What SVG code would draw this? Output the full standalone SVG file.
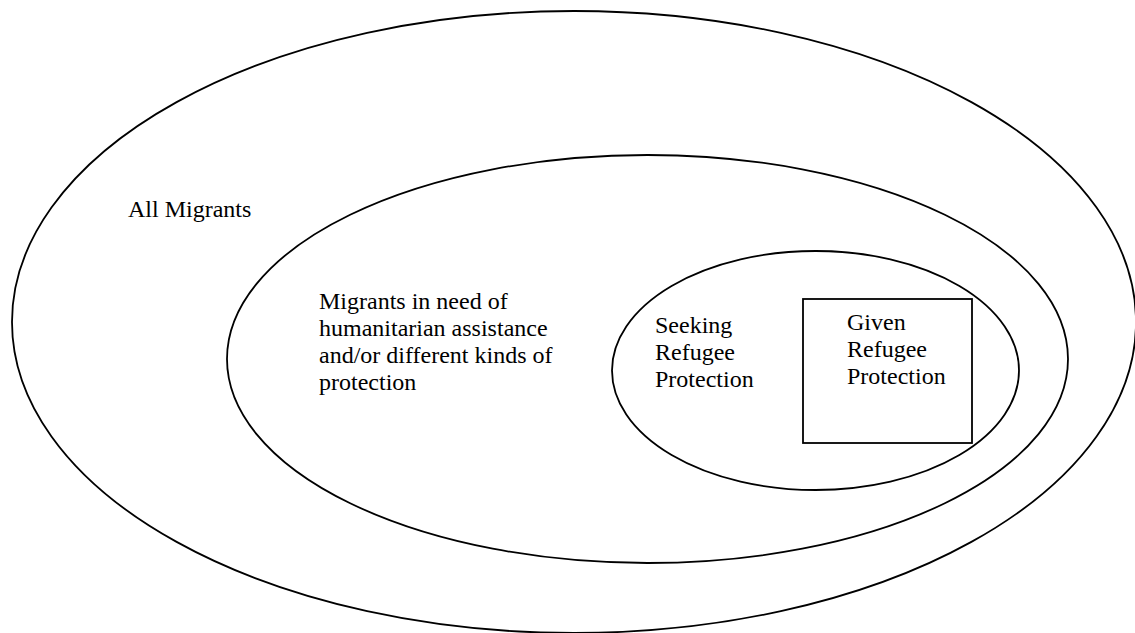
<svg xmlns="http://www.w3.org/2000/svg" width="1135" height="633" viewBox="0 0 1135 633">
<style>
.s{fill:none;stroke:#000;stroke-width:1.8}
text{font-family:"Liberation Serif","Times New Roman",serif;font-size:24px;fill:#000}
</style>
<rect width="1135" height="633" fill="#fff"/>
<g id="all-migrants">
<ellipse class="s" cx="574" cy="322" rx="562" ry="311"/>
<text x="128" y="217">All Migrants</text>
</g>
<g id="need-assistance">
<ellipse class="s" cx="647.5" cy="359" rx="420.5" ry="204"/>
<text x="319" y="309">Migrants in need of</text>
<text x="319" y="336">humanitarian assistance</text>
<text x="319" y="363">and/or different kinds of</text>
<text x="319" y="390">protection</text>
</g>
<g id="seeking">
<ellipse class="s" cx="815.5" cy="370.5" rx="203.5" ry="119.5"/>
<text x="655" y="333">Seeking</text>
<text x="655" y="360">Refugee</text>
<text x="655" y="387">Protection</text>
</g>
<g id="given">
<rect class="s" x="803" y="299" width="169" height="144"/>
<text x="847" y="330">Given</text>
<text x="847" y="357">Refugee</text>
<text x="847" y="384">Protection</text>
</g>
<g id="connectors"/>
</svg>
